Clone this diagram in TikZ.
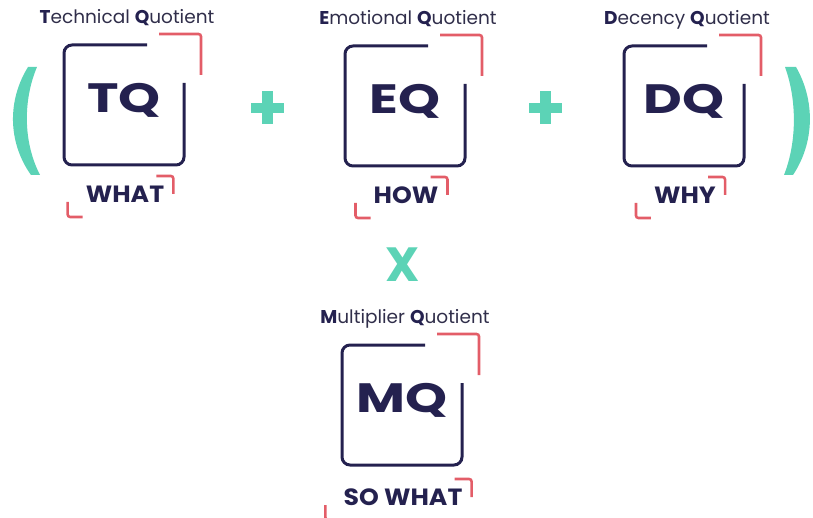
\documentclass[tikz,border=0pt]{standalone}
\usepackage{fontspec}
\setmainfont{Poppins}
\newfontfamily\qbigfont[FakeStretch=1.3]{Poppins}
\newfontfamily\qwordfont[FakeStretch=1.07]{Poppins}
\usetikzlibrary{calc}
\definecolor{navy}{HTML}{24214F}
\definecolor{qred}{HTML}{E35D68}
\definecolor{qteal}{HTML}{5CD3B6}
\definecolor{qgray}{HTML}{302E4A}
\newcommand\qini[1]{\textcolor{navy}{\bfseries #1}}
\tikzset{
  frame/.style={draw=navy, line width=3pt, rounded corners=8pt},
  accent/.style={draw=qred, line width=2.6pt, rounded corners=2.5pt},
  bigtext/.style={font=\qbigfont\fontsize{41}{41}\selectfont\bfseries, text=navy, inner sep=0pt, text height=29pt, text depth=0pt},
  wordtext/.style={font=\qwordfont\fontsize{23.5}{24}\selectfont\bfseries, text=navy, inner sep=0pt, text height=16.5pt, text depth=0pt},
  captext/.style={font=\fontsize{18.5}{19}\selectfont, text=qgray, inner sep=0pt, text height=13pt, text depth=0pt},
  tealfill/.style={fill=qteal, draw=none},
  optext/.style={font=\fontsize{48}{48}\selectfont\bfseries, text=qteal, inner sep=0pt, text height=34pt, text depth=0pt},
}
\newcommand\quotunit[7]{%
  \coordinate (#1c) at (#2,#3);
  \draw[frame] ($(#1c)+(23,-60)$) -- ($(#1c)+(-60,-60)$) -- ($(#1c)+(-60,60)$) -- ($(#1c)+(60,60)$) -- ($(#1c)+(60,-22)$);
  \draw[accent] ($(#1c)+(35,-71)$) -- ($(#1c)+(77,-71)$) -- ($(#1c)+(77,-30)$);
  \node[captext] (#1cap) at ($(#1c)+(3,-88)$) {#4};
  \node[bigtext] (#1big) at ($(#1c)+(0,-7)$) {#5};
  \node[wordtext] (#1word) at ($(#1c)+(1,#7)$) {#6};
  \draw[accent] ($(#1word.east)+(-8,-18)$) -- ++(17,0) -- ++(0,18);
  \draw[accent] ($(#1word.west)+(-18,8)$) -- ++(0,15) -- ++(15,0);
}
\begin{document}
\begin{tikzpicture}[x=1pt,y=-1pt]
\useasboundingbox (0,0) rectangle (813,518);
\quotunit{tq}{124}{105}{\qini{T}echnical \qini{Q}uotient}{TQ}{WHAT}{89}
\quotunit{eq}{405}{106}{\qini{E}motional \qini{Q}uotient}{EQ}{HOW}{89}
\quotunit{dq}{684}{106}{\qini{D}ecency \qini{Q}uotient}{DQ}{WHY}{89}
\quotunit{mq}{402}{405}{\qini{M}ultiplier \qini{Q}uotient}{MQ}{SO WHAT}{92}
% parentheses
\fill[tealfill] (28,67) .. controls (7.5,100) and (7.5,142) .. (31,175) -- (40,175) .. controls (23,142) and (23,100) .. (37,67) -- cycle;
\fill[tealfill] (796,67) .. controls (815,100) and (815,142) .. (793,175) -- (784,175) .. controls (797,142) and (797,100) .. (785,67) -- cycle;
% plus signs
\coordinate (plusa) at (267,108);
\coordinate (plusb) at (545,108);
\foreach \p in {plusa,plusb}{
  \fill[tealfill] ($(\p)+(-5.5,-16.5)$) rectangle ($(\p)+(5.5,16.5)$);
  \fill[tealfill] ($(\p)+(-16.5,-5)$) rectangle ($(\p)+(16.5,5)$);
}
% times
\node[optext] (times) at (403,265) {X};
\end{tikzpicture}
\end{document}
